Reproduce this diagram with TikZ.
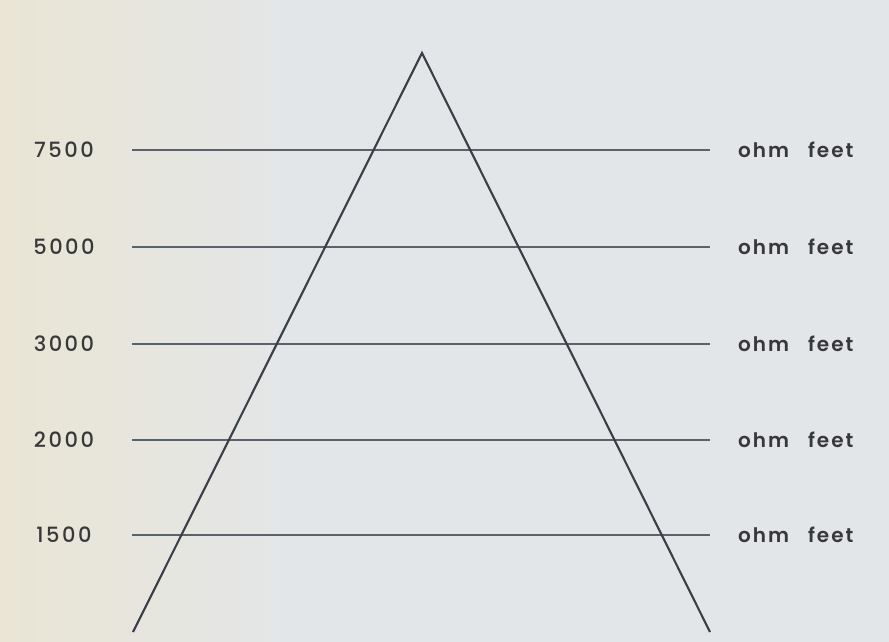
\documentclass[tikz,border=0pt]{standalone}
\usepackage{fontspec}
\setmainfont{Poppins}
\newfontfamily\numfont[LetterSpace=12]{Poppins Medium}
\newfontfamily\unitfont[LetterSpace=10,WordSpace=2.8]{Poppins SemiBold}
\begin{document}
\begin{tikzpicture}[x=1pt,y=-1pt,
  rule/.style={draw=rulecol,line width=1.3pt},
  side/.style={draw=sidecol,line width=2.1pt},
  val/.style={font=\numfont\fontsize{21}{21}\selectfont,text=txtcol,anchor=center,inner sep=0pt},
  unit/.style={font=\unitfont\fontsize{20}{20}\selectfont,text=txtcol,anchor=west,inner sep=0pt}]
\definecolor{bgcol}{HTML}{E3E6E9}
\definecolor{creamcol}{HTML}{EAE5D4}
\definecolor{rulecol}{HTML}{5C6269}
\definecolor{sidecol}{HTML}{3A3E46}
\definecolor{txtcol}{HTML}{38383C}
\useasboundingbox (0,0) rectangle (889,642);
\fill[bgcol] (0,0) rectangle (889,642);
\shade[left color=creamcol,right color=bgcol] (0,0) rectangle (300,642);
\coordinate (apex) at (422,53);
\coordinate (bl) at (133,632);
\coordinate (br) at (710,632);
\foreach \y/\v [count=\i] in {150/7500,247/5000,344/3000,440/2000,535/1500}{
  \coordinate (l\i) at (132,\y);
  \coordinate (r\i) at (710,\y);
  \draw[rule] (l\i) -- (r\i);
  \node[val] (v\i) at (64,\y) {\v};
  \node[unit] (u\i) at (738,\y) {ohm feet};
}
\draw[side,line join=miter] (bl) -- (apex) -- (br);
\end{tikzpicture}
\end{document}
